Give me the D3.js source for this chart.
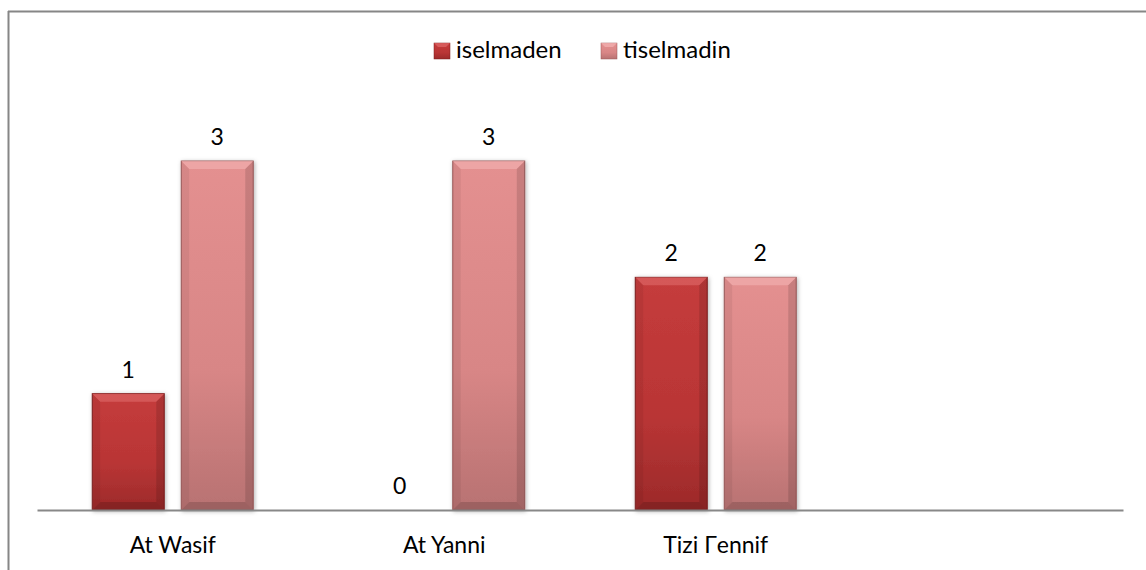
<!DOCTYPE html>
<html>
<head>
<meta charset="utf-8">
<script src="https://cdn.jsdelivr.net/npm/d3@7"></script>
<style>
  body { margin: 0; background: #fff; }
  text { font-family: Lato, "Open Sans", sans-serif; fill: #000; }
</style>
</head>
<body>
<div id="chart"></div>
<script>
// data
const categories = ["At Wasif", "At Yanni", "Tizi Γennif", ""];
const seriesNames = ["iselmaden", "tiselmadin"];
const iselmaden = [1, 0, 2, null];
const tiselmadin = [3, 3, 2, null];

const W = 1146, H = 570;
const margin = {top: 11, right: 23, bottom: 60, left: 37};
const plotW = W - margin.left - margin.right;
const y0 = 510;

const svg = d3.select("#chart").append("svg")
    .attr("width", W).attr("height", H);

const defs = svg.append("defs");
const fills = [
  {id: "g0", top: "#c53c3c", mid: "#b93535", bot: "#9c2a2a", edge: "#7e1f1f", hi: "#e06a6a"},
  {id: "g1", top: "#e49090", mid: "#d88686", bot: "#b87272", edge: "#9a5a5a", hi: "#f4b4b4"}
];
fills.forEach(function(f) {
  const g = defs.append("linearGradient").attr("id", f.id)
      .attr("x1", 0).attr("y1", 0).attr("x2", 0).attr("y2", 1);
  g.append("stop").attr("offset", "0%").attr("stop-color", f.top);
  g.append("stop").attr("offset", "60%").attr("stop-color", f.mid);
  g.append("stop").attr("offset", "100%").attr("stop-color", f.bot);
});
const sh = defs.append("filter").attr("id", "shadow")
    .attr("x", "-20%").attr("y", "-10%").attr("width", "140%").attr("height", "120%");
sh.append("feDropShadow").attr("dx", 1).attr("dy", 1).attr("stdDeviation", 2)
    .attr("flood-color", "#000").attr("flood-opacity", 0.3);

// frame (left and top edges visible)
svg.append("line").attr("x1", 8.5).attr("x2", 8.5).attr("y1", 11).attr("y2", H)
    .attr("stroke", "#868686").attr("stroke-width", 2);
svg.append("line").attr("x1", 8).attr("x2", W).attr("y1", 11.5).attr("y2", 11.5)
    .attr("stroke", "#868686").attr("stroke-width", 2);

const x = d3.scaleBand().domain(d3.range(categories.length))
    .range([margin.left, margin.left + plotW]);
const y = d3.scaleLinear().domain([0, 3]).range([y0, 161]);

const barW = 72, gap = 17;

const chart = svg.append("g");
const data = [];
categories.forEach(function(c, i) {
  [iselmaden, tiselmadin].forEach(function(s, k) {
    if (s[i] == null) return;
    const cx = x(i) + x.bandwidth() / 2;
    const bx = k === 0 ? cx - gap / 2 - barW : cx + gap / 2;
    data.push({i: i, k: k, v: s[i], x: bx});
  });
});

const bars = chart.selectAll(".bar").data(data).enter().append("g").attr("class", "bar");
bars.filter(d => d.v > 0).each(function(d) {
  const g = d3.select(this);
  const f = fills[d.k];
  const top = y(d.v), h = y0 - top, b = 8;
  g.append("rect").attr("x", d.x).attr("y", top).attr("width", barW).attr("height", h)
      .attr("fill", "url(#" + f.id + ")").attr("stroke", f.edge).attr("stroke-width", 1)
      .attr("filter", "url(#shadow)");
  // bevel: top highlight
  g.append("path")
      .attr("d", `M${d.x},${top}L${d.x + barW},${top}L${d.x + barW - b},${top + b}L${d.x + b},${top + b}Z`)
      .attr("fill", f.hi).attr("opacity", 0.6);
  // sides
  g.append("path")
      .attr("d", `M${d.x},${top}L${d.x + b},${top + b}L${d.x + b},${y0 - b}L${d.x},${y0}Z`)
      .attr("fill", "#000").attr("opacity", 0.06);
  g.append("path")
      .attr("d", `M${d.x + barW},${top}L${d.x + barW - b},${top + b}L${d.x + barW - b},${y0 - b}L${d.x + barW},${y0}Z`)
      .attr("fill", "#000").attr("opacity", 0.12);
  g.append("path")
      .attr("d", `M${d.x},${y0}L${d.x + b},${y0 - b}L${d.x + barW - b},${y0 - b}L${d.x + barW},${y0}Z`)
      .attr("fill", "#000").attr("opacity", 0.15);
});

bars.append("text")
    .attr("x", d => d.x + barW / 2)
    .attr("y", d => y(d.v) - 16)
    .attr("text-anchor", "middle")
    .style("font-size", "23px")
    .text(d => d.v);

// axis
const axis = svg.append("g").attr("transform", "translate(0," + y0 + ")")
    .call(d3.axisBottom(x).tickSize(0).tickPadding(27).tickFormat(i => categories[i]));
axis.select(".domain").attr("stroke", "#888").attr("stroke-width", 2);
axis.selectAll("text").style("font-size", "23px").style("font-family", "Lato, 'Open Sans', sans-serif");

// legend
const legendX = [434, 601];
const legend = svg.selectAll(".legend").data(seriesNames).enter().append("g")
    .attr("class", "legend")
    .attr("transform", (d, i) => "translate(" + legendX[i] + ",43)");
legend.append("rect").attr("width", 16).attr("height", 16)
    .attr("fill", (d, i) => "url(#" + fills[i].id + ")")
    .attr("stroke", (d, i) => fills[i].edge).attr("stroke-width", 0.5);
legend.append("path").attr("d", "M0,0L16,0L12,4L4,4Z").attr("fill", (d, i) => fills[i].hi).attr("opacity", 0.7);
legend.append("text").attr("x", 22).attr("y", 15)
    .style("font-size", "24px").text(d => d);
</script>
</body>
</html>
